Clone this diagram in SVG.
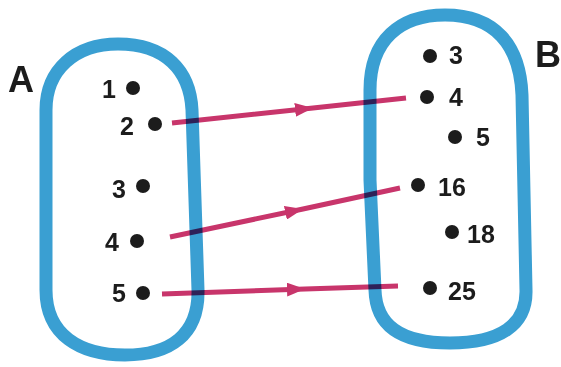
<svg xmlns="http://www.w3.org/2000/svg" width="561" height="367" viewBox="0 0 561 367">
<style>
.set{fill:none;stroke:#3a9fd2;stroke-width:13;stroke-linejoin:round}
.dot{fill:#1c1c1c}
.num{font-family:"Liberation Sans",Arial,sans-serif;font-weight:bold;font-size:25px;fill:#1c1c1c}
.lbl{font-family:"Liberation Sans",Arial,sans-serif;font-weight:bold;font-size:36px;fill:#1c1c1c}
.arr{fill:none;stroke:#c8356b;stroke-width:5;stroke-linecap:butt;marker-mid:url(#head)}
#connectors{mix-blend-mode:multiply}
</style>
<defs>
<marker id="head" viewBox="0 0 18 14" refX="18" refY="7" markerWidth="18" markerHeight="14" markerUnits="userSpaceOnUse" orient="auto">
<path d="M0,0 L18,7 L0,14 z" fill="#c8356b"/>
</marker>
</defs>
<rect width="561" height="367" fill="#ffffff"/>
<g id="setA">
<path class="set" d="M46,200 L46,110 C46,70 75,44 118,44 C165,44 190,70 192,110 L198,290 C199,335 170,355 125,355 C80,355 46,335 46,290 Z"/>
<text class="lbl" x="8" y="92">A</text>
</g>
<g id="setB">
<path class="set" d="M370,180 L370,90 C370,40 400,15 445,15 C495,15 520,45 522,95 L526,290 C527,325 500,343 450,343 C400,343 376,325 375,290 Z"/>
<text class="lbl" x="535" y="67">B</text>
</g>
<g id="a1"><circle class="dot" cx="133" cy="88" r="7"/><text class="num" x="116" y="98" text-anchor="end">1</text></g>
<g id="a2"><circle class="dot" cx="155" cy="124" r="7"/><text class="num" x="134" y="135" text-anchor="end">2</text></g>
<g id="a3"><circle class="dot" cx="143" cy="186" r="7"/><text class="num" x="126" y="198" text-anchor="end">3</text></g>
<g id="a4"><circle class="dot" cx="137" cy="241" r="7"/><text class="num" x="119" y="251" text-anchor="end">4</text></g>
<g id="a5"><circle class="dot" cx="143" cy="293" r="7"/><text class="num" x="126" y="302" text-anchor="end">5</text></g>
<g id="b3"><circle class="dot" cx="430" cy="56" r="7"/><text class="num" x="449" y="64">3</text></g>
<g id="b4"><circle class="dot" cx="427" cy="97" r="7"/><text class="num" x="449" y="106">4</text></g>
<g id="b5"><circle class="dot" cx="455" cy="137" r="7"/><text class="num" x="476" y="146">5</text></g>
<g id="b16"><circle class="dot" cx="418" cy="185" r="7"/><text class="num" x="438" y="196">16</text></g>
<g id="b18"><circle class="dot" cx="452" cy="232" r="7"/><text class="num" x="467" y="243">18</text></g>
<g id="b25"><circle class="dot" cx="430" cy="288" r="7"/><text class="num" x="448" y="300">25</text></g>
<g id="connectors">
<polyline class="arr" points="172,123 313,108 406,98"/>
<polyline class="arr" points="170,237 303,209 400,188"/>
<polyline class="arr" points="162,294 305,289 398,286"/>
</g>
</svg>
